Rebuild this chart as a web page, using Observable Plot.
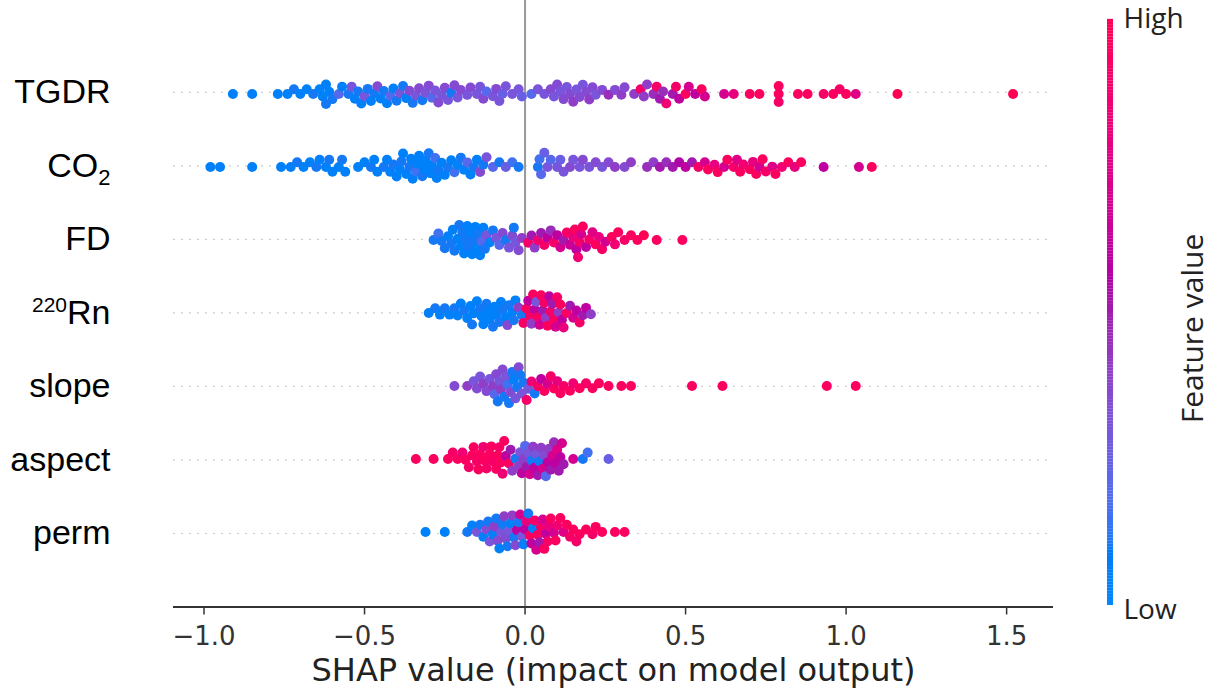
<!DOCTYPE html>
<html><head><meta charset="utf-8">
<script src="https://cdn.jsdelivr.net/npm/d3@7"></script>
<script src="https://cdn.jsdelivr.net/npm/@observablehq/plot@0.6"></script>
<style>
html,body{margin:0;padding:0;background:#fff;overflow:hidden;}
#chart{position:relative;width:1217px;height:693px;}
#chart svg{position:absolute;top:0;left:0;}
</style></head><body><div id="chart"></div>
<script>
// ---- data ----
const features = ["TGDR", "CO2", "FD", "220Rn", "slope", "aspect", "perm"];
const xTicks = [-1, -0.5, 0, 0.5, 1, 1.5];
// [SHAP value, normalized feature value]
const tgdr = [
[-0.91,.05],[-0.85,.05],[-0.77,.05],[-0.74,.05],[-0.72,.1],[-0.70,.05],[-0.68,.05],[-0.66,.1],[-0.64,.05],[-0.63,.05],[-0.62,.05],[-0.62,.1],[-0.61,.05],[-0.60,.1],[-0.58,.2],[-0.57,.05],[-0.55,.1],[-0.54,.3],[-0.53,.05],[-0.52,.1],[-0.51,.05],[-0.50,.3],[-0.49,.1],[-0.48,.05],[-0.47,.1],[-0.46,.35],[-0.45,.05],[-0.44,.1],[-0.43,.05],[-0.42,.2],[-0.41,.05],[-0.40,.1],[-0.39,.3],[-0.38,.1],[-0.37,.05],[-0.36,.35],[-0.35,.1],[-0.34,.3],[-0.33,.35],[-0.32,.1],[-0.31,.3],[-0.30,.35],[-0.29,.2],[-0.28,.3],[-0.27,.35],[-0.26,.3],[-0.25,.35],[-0.24,.3],[-0.23,.1],[-0.22,.35],[-0.21,.3],[-0.20,.35],[-0.18,.3],[-0.17,.35],[-0.15,.3],[-0.14,.3],[-0.13,.35],[-0.12,.2],[-0.10,.3],[-0.09,.35],[-0.08,.3],[-0.07,.25],[-0.06,.3],[-0.04,.3],[-0.02,.3],[-0.01,.25],
[0.02,.2],[0.04,.3],[0.06,.3],[0.08,.35],[0.09,.3],[0.10,.35],[0.11,.3],[0.12,.35],[0.13,.3],[0.14,.35],[0.15,.4],[0.16,.3],[0.17,.35],[0.18,.3],[0.19,.35],[0.20,.4],[0.21,.35],[0.22,.3],[0.24,.35],[0.26,.45],[0.28,.35],[0.30,.4],[0.31,.35],[0.34,.4],[0.36,.9],[0.37,.4],[0.38,.4],[0.40,.45],[0.41,.9],[0.42,.5],[0.43,.45],[0.44,.85],[0.46,.5],[0.47,.9],[0.48,.6],[0.50,.95],[0.51,.7],[0.53,.6],[0.55,.95],[0.56,.7],
[0.62,.7],[0.65,.8],[0.70,.95],[0.73,.95],[0.79,.95],[0.79,.95],[0.79,.9],[0.85,.95],[0.88,.95],[0.93,.9],[0.96,.95],[0.98,.9],[1.00,.95],[1.03,.75],[1.16,1],[1.52,1]
];
const co2 = [
[-0.98,.05],[-0.95,.05],[-0.85,.05],[-0.76,.05],[-0.73,.05],[-0.71,.1],[-0.69,.05],[-0.67,.05],[-0.65,.1],[-0.64,.05],[-0.62,.05],[-0.61,.1],[-0.60,.05],[-0.58,.05],[-0.57,.1],[-0.56,.05],[-0.52,.05],[-0.50,.05],[-0.48,.1],[-0.47,.05],[-0.46,.05],[-0.44,.1],[-0.43,.05],[-0.42,.05],[-0.41,.1],[-0.40,.05],[-0.39,.05],[-0.385,.1],[-0.38,.05],[-0.37,.05],[-0.36,.1],[-0.355,.05],[-0.35,.05],[-0.34,.15],[-0.335,.05],[-0.33,.05],[-0.32,.1],[-0.315,.05],[-0.31,.05],[-0.30,.1],[-0.295,.05],[-0.29,.05],[-0.28,.15],[-0.275,.05],[-0.27,.1],[-0.26,.05],[-0.25,.05],[-0.24,.1],[-0.23,.05],[-0.22,.15],[-0.21,.05],[-0.20,.1],[-0.19,.05],[-0.18,.2],[-0.17,.05],[-0.16,.1],[-0.15,.05],[-0.14,.35],[-0.13,.1],[-0.12,.3],[-0.10,.2],[-0.08,.1],[-0.06,.25],[-0.04,.15],[-0.02,.1],
[0.04,.1],[0.045,.15],[0.05,.2],[0.06,.25],[0.07,.3],[0.08,.2],[0.10,.3],[0.11,.25],[0.12,.3],[0.14,.35],[0.15,.3],[0.17,.3],[0.18,.35],[0.20,.3],[0.22,.35],[0.24,.3],[0.26,.35],[0.28,.4],[0.31,.35],[0.33,.4],[0.38,.45],[0.40,.4],[0.42,.5],[0.44,.45],[0.46,.5],[0.48,.55],[0.50,.6],[0.52,.5],[0.54,.9],[0.56,.7],[0.57,.95],[0.59,.8],[0.60,.95],[0.62,.7],[0.63,.95],[0.65,.9],[0.66,.75],[0.67,.95],[0.68,.85],[0.70,.95],[0.71,.8],[0.72,.95],[0.73,.7],[0.74,.95],[0.75,.9],[0.77,.75],[0.78,.95],[0.80,.85],[0.82,.95],[0.84,.8],[0.86,.95],[0.93,.6],[1.04,.7],[1.08,.95]
];
const fd = [
[-0.285,.1],[-0.27,.15],[-0.26,.1],[-0.25,.1],[-0.24,.05],[-0.23,.1],[-0.225,.05],[-0.22,.1],[-0.21,.05],[-0.205,.1],[-0.20,.05],[-0.195,.1],[-0.19,.05],[-0.185,.1],[-0.18,.05],[-0.175,.1],[-0.17,.05],[-0.165,.05],[-0.16,.1],[-0.155,.05],[-0.15,.05],[-0.145,.1],[-0.14,.05],[-0.135,.2],[-0.13,.05],[-0.125,.1],[-0.12,.3],[-0.11,.05],[-0.10,.1],[-0.09,.3],[-0.08,.2],[-0.07,.35],[-0.06,.1],[-0.05,.3],[-0.04,.35],[-0.035,.1],[-0.03,.3],[-0.02,.35],[-0.01,.4],
[0.01,.9],[0.02,.5],[0.03,.4],[0.04,.85],[0.05,.5],[0.06,.9],[0.07,.6],[0.08,.45],[0.09,.9],[0.10,.6],[0.11,.7],[0.12,.5],[0.13,.9],[0.14,.65],[0.15,.8],[0.155,.95],[0.16,.6],[0.165,.85],[0.17,.9],[0.175,.7],[0.18,.95],[0.19,.6],[0.20,.9],[0.21,.75],[0.22,.95],[0.23,.8],[0.24,.9],[0.25,.7],[0.27,.95],[0.28,.85],[0.29,.95],[0.31,.9],[0.33,.95],[0.35,.95],[0.37,1],[0.41,.95],[0.49,.95]
];
const rn220 = [
[-0.30,.05],[-0.28,.1],[-0.265,.05],[-0.25,.1],[-0.235,.05],[-0.22,.1],[-0.21,.05],[-0.20,.05],[-0.19,.1],[-0.18,.05],[-0.17,.05],[-0.165,.1],[-0.16,.05],[-0.15,.05],[-0.14,.1],[-0.135,.05],[-0.13,.05],[-0.12,.1],[-0.115,.05],[-0.11,.05],[-0.10,.1],[-0.095,.05],[-0.09,.05],[-0.08,.1],[-0.075,.05],[-0.07,.1],[-0.06,.05],[-0.055,.35],[-0.05,.1],[-0.04,.05],[-0.035,.1],[-0.03,.05],[-0.02,.4],[-0.01,.1],[-0.005,.9],
[0.005,.95],[0.01,.6],[0.015,.9],[0.02,.4],[0.025,.95],[0.03,.6],[0.035,.3],[0.04,.9],[0.045,.7],[0.05,.95],[0.055,.5],[0.06,.9],[0.065,.4],[0.07,.95],[0.075,.6],[0.08,.9],[0.085,.5],[0.09,.95],[0.095,.7],[0.10,.9],[0.105,.4],[0.11,.95],[0.115,.6],[0.12,.8],[0.13,.95],[0.14,.5],[0.15,.7],[0.16,.6],[0.17,.9],[0.18,.5],[0.19,.6],[0.205,.4]
];
const slope = [
[-0.22,.35],[-0.18,.4],[-0.16,.3],[-0.15,.35],[-0.14,.3],[-0.13,.4],[-0.12,.35],[-0.11,.3],[-0.10,.4],[-0.095,.2],[-0.09,.35],[-0.085,.1],[-0.08,.3],[-0.075,.4],[-0.07,.35],[-0.065,.1],[-0.06,.3],[-0.055,.15],[-0.05,.1],[-0.045,.35],[-0.04,.1],[-0.035,.05],[-0.03,.3],[-0.025,.1],[-0.02,.35],[-0.015,.1],[-0.01,.3],[-0.005,.1],
[0.005,.9],[0.01,.3],[0.02,.85],[0.03,.1],[0.04,.9],[0.05,.6],[0.06,.95],[0.07,.7],[0.08,.9],[0.09,.95],[0.10,.8],[0.11,.95],[0.12,.9],[0.14,.95],[0.15,.85],[0.17,.95],[0.19,.9],[0.21,.95],[0.23,.95],[0.26,.95],[0.30,.95],[0.33,.95],[0.52,.95],[0.615,.95],[0.94,.95],[1.03,.95]
];
const aspect = [
[-0.34,.95],[-0.285,.95],[-0.24,.95],[-0.225,.9],[-0.21,.95],[-0.195,.85],[-0.185,.95],[-0.175,.9],[-0.165,.95],[-0.16,.95],[-0.15,.9],[-0.145,.95],[-0.14,.95],[-0.13,.85],[-0.125,.95],[-0.12,.9],[-0.11,.95],[-0.105,.95],[-0.10,.9],[-0.09,.95],[-0.085,.95],[-0.08,.9],[-0.075,.95],[-0.07,.85],[-0.065,.95],[-0.06,.6],[-0.05,.95],[-0.045,.5],[-0.04,.4],[-0.03,.1],
[-0.02,.4],[-0.015,.3],[-0.01,.6],[-0.005,.4],[0.0,.2],[0.005,.5],[0.01,.3],[0.015,.7],[0.02,.1],[0.025,.4],[0.03,.6],[0.035,.3],[0.04,.5],[0.045,.1],[0.05,.4],[0.055,.7],[0.06,.35],[0.065,.2],[0.07,.6],[0.075,.4],[0.08,.5],[0.085,.7],[0.09,.45],[0.095,.6],[0.10,.75],[0.105,.5],[0.11,.6],[0.115,.7],[0.12,.5],[0.15,.7],[0.18,.1],[0.195,.15],[0.26,.25]
];
const perm = [
[-0.31,.05],[-0.25,.05],[-0.18,.1],[-0.165,.05],[-0.15,.3],[-0.14,.1],[-0.13,.05],[-0.12,.35],[-0.115,.1],[-0.11,.3],[-0.10,.05],[-0.095,.4],[-0.09,.1],[-0.085,.35],[-0.08,.05],[-0.075,.3],[-0.07,.1],[-0.065,.4],[-0.06,.35],[-0.055,.1],[-0.05,.3],[-0.045,.05],[-0.04,.4],[-0.035,.1],[-0.03,.35],[-0.025,.6],[-0.02,.1],[-0.015,.7],[-0.01,.3],[-0.005,.05],
[0.0,.6],[0.005,.8],[0.01,.1],[0.015,.95],[0.02,.6],[0.025,.05],[0.03,.9],[0.035,.7],[0.04,.95],[0.045,.5],[0.05,.9],[0.055,.7],[0.06,.95],[0.065,.6],[0.07,.9],[0.075,.8],[0.08,.95],[0.09,.7],[0.095,.95],[0.10,.85],[0.11,.95],[0.12,.75],[0.13,.95],[0.14,.9],[0.15,.95],[0.16,.9],[0.17,.95],[0.19,.95],[0.21,.9],[0.22,.95],[0.24,.95],[0.28,.95],[0.31,.95]
];
const rowsByFeature = {TGDR: tgdr, CO2: co2, FD: fd, "220Rn": rn220, slope: slope, aspect: aspect, perm: perm};
const points = features.flatMap(f => rowsByFeature[f].map(([shap, value]) => ({feature: f, shap, value})));

// ---- layout ----
const W = 1217, H = 693;
const marginLeft = 173, marginRight = 164, marginBottom = 86.5;
const xDomain = [-1.095, 1.646];

// SHAP red_blue colormap (LCH, lightness dips in the middle)
function redBlue(t) {
  const l = t < 0.5 ? 54 - 28 * t : 40 + 28 * (t - 0.5);
  return d3.hcl(267 + 113.3 * t, 70 + 20 * t, l).formatHex();
}
const colorScale = {type: "linear", domain: [0, 1], interpolate: redBlue};

const chart = document.getElementById("chart");

// background layer: grid, zero line, axes, labels
const rowIdx = features.map((_, i) => i);
const axes = Plot.plot({
  width: W, height: H, marginLeft, marginRight, marginTop: 0, marginBottom,
  style: {background: "transparent", fontFamily: "DejaVu Sans"},
  x: {domain: xDomain},
  y: {domain: [7, -1.25]},
  marks: [
    Plot.ruleY(rowIdx, {stroke: "#cccccc", strokeWidth: 1.2, strokeDasharray: "2,6"}),
    Plot.ruleX([0], {stroke: "#999999", strokeWidth: 2}),
    Plot.ruleY([7], {stroke: "#333", strokeWidth: 2}),
    Plot.axisX(xTicks, {tickSize: 8, tickPadding: 12, fontSize: 26, tickFormat: d3.format(".1f"), label: null, stroke: "#333", fill: "#333", strokeWidth: 1.5}),
    Plot.axisY(rowIdx, {tickSize: 0, tickPadding: 63, fontSize: 34, fontFamily: "Liberation Sans", fill: "#000", tickFormat: i => features[i], label: null}),
    Plot.text(["SHAP value (impact on model output)"], {frameAnchor: "bottom", dy: 74, fontSize: 32, fill: "#222"})
  ]
});
chart.appendChild(axes);

// sub/superscripts in row labels
axes.querySelectorAll("text").forEach(t => {
  const s = t.textContent;
  const ns = "http://www.w3.org/2000/svg";
  const span = (txt, attrs) => { const e = document.createElementNS(ns, "tspan"); e.textContent = txt; for (const k in attrs) e.setAttribute(k, attrs[k]); return e; };
  if (s === "CO2") {
    t.textContent = "";
    t.appendChild(span("CO", {}));
    t.appendChild(span("2", {"font-size": 22, dy: 8}));
  } else if (s === "220Rn") {
    t.textContent = "";
    t.appendChild(span("220", {"font-size": 21, dy: -12}));
    t.appendChild(span("Rn", {dy: 12}));
  }
});

// swarm layer
const swarm = Plot.plot({
  width: W, height: H, marginLeft, marginRight, marginTop: 18.5, marginBottom,
  style: {background: "transparent"},
  x: {domain: xDomain, axis: null},
  fy: {domain: features, paddingInner: 0, paddingOuter: 0.5, axis: null},
  color: colorScale,
  marks: [
    Plot.dot(points, Plot.dodgeY({anchor: "middle", padding: -2}, {x: "shap", fy: "feature", r: 5, fill: "value"}))
  ]
});
chart.appendChild(swarm);

// colour bar
const barSteps = d3.range(0, 1, 0.005);
const bar = Plot.plot({
  width: 127, height: H, marginLeft: 17, marginRight: 104, marginTop: 19, marginBottom: 88,
  style: {background: "transparent", fontFamily: "Open Sans", overflow: "visible"},
  x: {domain: [0, 1], axis: null},
  y: {domain: [0, 1], axis: null},
  color: colorScale,
  marks: [
    Plot.rect(barSteps, {x1: 0, x2: 1, y1: d => d, y2: d => d + 0.0052, fill: d => d}),
    Plot.text(["High"], {frameAnchor: "top-right", textAnchor: "start", dx: 10, dy: -11, fontSize: 28, fill: "#222"}),
    Plot.text(["Low"], {frameAnchor: "bottom-right", textAnchor: "start", dx: 10, dy: 13, fontSize: 28, fill: "#222"}),
    Plot.text(["Feature value"], {frameAnchor: "right", textAnchor: "middle", rotate: -90, dx: 80, dy: 16, fontSize: 30, fill: "#222"})
  ]
});
bar.style.left = "1090px";
chart.appendChild(bar);
</script>
</body></html>
